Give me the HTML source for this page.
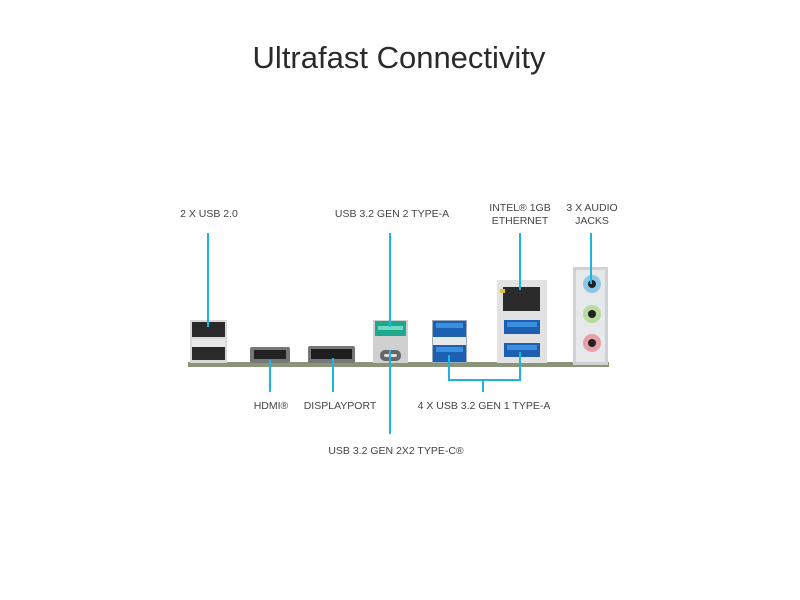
<!DOCTYPE html>
<html><head><meta charset="utf-8"><style>
html,body{margin:0;padding:0;background:#fff;}
svg{display:block;}
text{font-family:"Liberation Sans",sans-serif;fill:#444;}
</style></head><body>
<svg width="800" height="600" viewBox="0 0 800 600" xmlns="http://www.w3.org/2000/svg">
<text x="399" y="68" font-size="31" text-anchor="middle" style="fill:#2a2a2a">Ultrafast Connectivity</text>
<g font-size="10.5" text-anchor="middle">
<text x="209" y="217">2 X USB 2.0</text>
<text x="392" y="217">USB 3.2 GEN 2 TYPE-A</text>
<text x="520" y="211">INTEL® 1GB</text>
<text x="520" y="224">ETHERNET</text>
<text x="592" y="211">3 X AUDIO</text>
<text x="592" y="224">JACKS</text>
<text x="271" y="409">HDMI®</text>
<text x="340" y="409">DISPLAYPORT</text>
<text x="484" y="409">4 X USB 3.2 GEN 1 TYPE-A</text>
<text x="396" y="454">USB 3.2 GEN 2X2 TYPE-C®</text>
</g>
<rect x="188" y="362" width="421" height="5" fill="#8a9478"/>
<rect x="190" y="320" width="37" height="43" fill="#d8d8d8"/>
<rect x="192" y="322" width="33" height="15" fill="#2a2a2a"/>
<rect x="192" y="339" width="33" height="8" fill="#e8e8e8"/>
<rect x="192" y="347" width="33" height="13" fill="#2a2a2a"/>
<rect x="250" y="347" width="40" height="16" rx="2" fill="#777"/>
<rect x="254" y="350" width="32" height="9" fill="#222"/>
<rect x="308" y="346" width="47" height="17" rx="2" fill="#777"/>
<rect x="311" y="349" width="41" height="10" fill="#1e1e1e"/>
<rect x="373" y="320" width="35" height="43" fill="#d0d0d0"/>
<rect x="375" y="321" width="31" height="15" fill="#1fa88e"/>
<rect x="378" y="326" width="25" height="4" fill="#6fd9c4"/>
<rect x="380" y="350" width="21" height="11" rx="5" fill="#666"/>
<rect x="384" y="354" width="13" height="3" rx="1.5" fill="#ddd"/>
<rect x="432" y="320" width="35" height="43" fill="#9ab"/>
<rect x="433" y="321" width="33" height="16" fill="#1d5fb0"/>
<rect x="433" y="337" width="33" height="8" fill="#e8e8e8"/>
<rect x="433" y="345" width="33" height="17" fill="#1d5fb0"/>
<rect x="436" y="323" width="27" height="5" fill="#3c8ee0"/>
<rect x="436" y="347" width="27" height="5" fill="#3c8ee0"/>
<rect x="497" y="280" width="50" height="83" fill="#e2e2e2"/>
<rect x="503" y="287" width="37" height="24" fill="#2b2b2b"/>
<rect x="500" y="289" width="5" height="4" fill="#e0c040"/>
<rect x="504" y="320" width="36" height="14" fill="#1d5fb0"/>
<rect x="504" y="343" width="36" height="14" fill="#1d5fb0"/>
<rect x="507" y="322" width="30" height="5" fill="#3c8ee0"/>
<rect x="507" y="345" width="30" height="5" fill="#3c8ee0"/>
<rect x="573" y="267" width="35" height="98" fill="#cfd2d4"/>
<rect x="576" y="270" width="29" height="92" fill="#e6e8ea"/>
<circle cx="592" cy="284" r="9" fill="#8ec8e6"/><circle cx="592" cy="284" r="4" fill="#222"/>
<circle cx="592" cy="314" r="9" fill="#b8dca0"/><circle cx="592" cy="314" r="4" fill="#222"/>
<circle cx="592" cy="343" r="9" fill="#e8a0a8"/><circle cx="592" cy="343" r="4" fill="#222"/>
<g stroke="#1eb4e2" stroke-width="2" fill="none">
<line x1="208" y1="233" x2="208" y2="327"/>
<line x1="390" y1="233" x2="390" y2="327"/>
<line x1="520" y1="233" x2="520" y2="290"/>
<line x1="591" y1="233" x2="591" y2="284"/>
<line x1="270" y1="360" x2="270" y2="392"/>
<line x1="333" y1="358" x2="333" y2="392"/>
<line x1="390" y1="350" x2="390" y2="434"/>
<polyline points="449,355 449,380 520,380 520,352"/>
<line x1="483" y1="380" x2="483" y2="392"/>
</g>
</svg>
</body></html>
